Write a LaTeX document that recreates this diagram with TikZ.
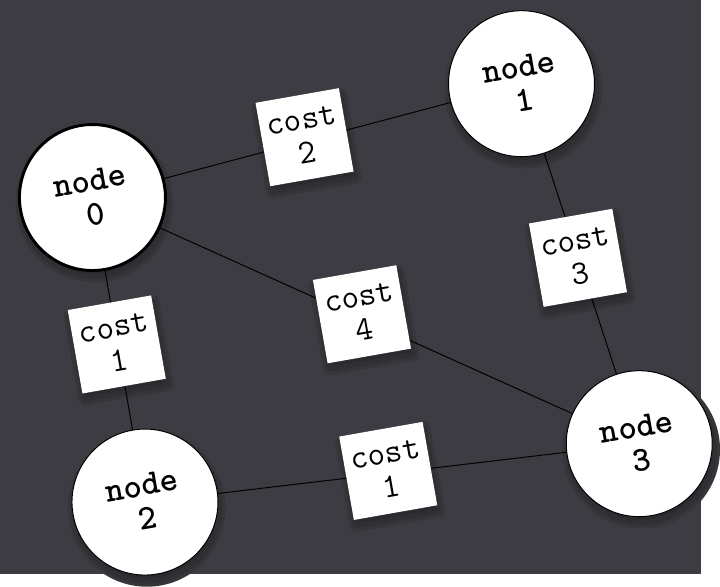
\documentclass[tikz,border=0pt]{standalone}
\usepackage{fontspec}
\definecolor{slate}{HTML}{3D3C42}
\pgfdeclarelayer{canvas}
\pgfdeclarelayer{shade}
\pgfdeclarelayer{edges}
\pgfsetlayers{canvas,shade,edges,main}
\tikzset{
 outer shade/.style={draw=slate!88!black,line width=12pt,fill=slate!80!black,line join=round},
 inner shade/.style={draw=slate!78!black,line width=5pt,fill=slate!70!black,line join=round}}
\begin{document}
\begin{tikzpicture}[x=1pt,y=-1pt,
 vertex/.style={circle,draw,fill=white,minimum size=150pt,inner sep=0pt,
   align=center,rotate=10,font=\ttfamily\bfseries\fontsize{36}{35}\selectfont},
 costbox/.style={rectangle,fill=white,minimum size=87pt,inner sep=0pt,align=center,rotate=10,
   font=\ttfamily\fontsize{35}{35}\selectfont}]
\begin{pgfonlayer}{canvas}
\fill[slate] (0,0) rectangle (720,590);
\end{pgfonlayer}
\foreach \i/\x/\y/\w in {0/95/203/3,1/536/86/1,2/149/516/1,3/657/456/1}
 \node[vertex,line width=\w pt] (n\i) at (\x,\y) {node\\\i};
\foreach \a/\b/\c/\x/\y in {0/1/2/313/141,0/3/4/372/323,1/3/3/594/265,0/2/1/120/354,2/3/1/399/484}
 \node[costbox] (c\a\b) at (\x,\y) {cost\\\c};
% shadows under nodes and boxes
\begin{pgfonlayer}{shade}
\foreach \s in {outer shade,inner shade} {
 \foreach \n in {n0,n1,n2,n3}
  \path[\s] ([shift={(2,6)}]\n.center) circle (75pt);
 \foreach \n in {c01,c03,c13,c02,c23}
  \path[\s] ([shift={(2,6)}]\n.north west) -- ([shift={(2,6)}]\n.north east)
   -- ([shift={(2,6)}]\n.south east) -- ([shift={(2,6)}]\n.south west) -- cycle;
}
\end{pgfonlayer}
\begin{pgfonlayer}{edges}
\foreach \a/\b in {0/1,0/3,1/3,0/2,2/3}
 \draw[line width=1pt] (n\a.center) -- (n\b.center);
\end{pgfonlayer}
\end{tikzpicture}
\end{document}
